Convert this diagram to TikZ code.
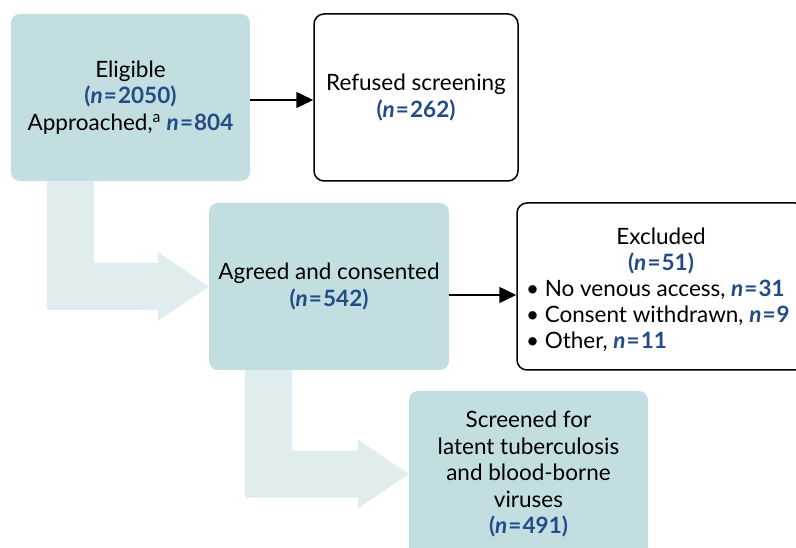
\documentclass[tikz,border=0pt]{standalone}
\usepackage{fontspec}
\setmainfont{Lato}
\usetikzlibrary{arrows.meta,calc}

\definecolor{boxteal}{HTML}{C3DEE1}
\definecolor{bendteal}{HTML}{DFEDEE}
\definecolor{nblue}{HTML}{234B85}

\pgfdeclarelayer{background}
\pgfsetlayers{background,main}

% count in blue, bold, italic n
\newcommand{\ncount}[1]{{\color{nblue}\bfseries\textit{n}\hspace{0.05em}=\hspace{0.05em}#1}}
\newcommand{\pcount}[1]{{\color{nblue}\bfseries(\textit{n}\hspace{0.05em}=\hspace{0.05em}#1)}}

% broad L-shaped arrow from the foot of one box into the side of the next
\newcommand{\flowbend}[2]{%
  \fill[bendteal] let \p1=(#1.south west), \p2=(#2.west) in
    (\x1+36pt,\y1) -- (\x1+36pt,\y2-23.5pt) -- (\x2-51pt,\y2-23.5pt)
    -- (\x2-51pt,\y2-34.5pt) -- (\x2,\y2) -- (\x2-51pt,\y2+34.5pt)
    -- (\x2-51pt,\y2+23.5pt) -- (\x1+83pt,\y2+23.5pt) -- (\x1+83pt,\y1) -- cycle;}

\tikzset{
  every node/.style={font=\fontsize{22.5}{26.5}\selectfont, inner sep=0pt},
  tealbox/.style={fill=boxteal, rounded corners=9pt, align=center},
  whitebox/.style={draw=black, line width=1.5pt, fill=white, rounded corners=10pt},
  flowarrow/.style={line width=1.5pt, -{Triangle[length=17pt,width=16pt]}},
}

\begin{document}
\begin{tikzpicture}[x=1pt,y=-1pt]
  \useasboundingbox (0,0) rectangle (796,548);

  \node[tealbox, minimum width=239pt, minimum height=167pt] (elig) at (130.5,97.5)
    {Eligible\\ \pcount{2050}\\ Approached,\textsuperscript{a} \ncount{804}};
  \node[whitebox, align=center, minimum width=204pt, minimum height=167pt] (refused) at (416,97.5)
    {Refused screening\\ \pcount{262}};
  \node[tealbox, minimum width=240pt, minimum height=167pt] (agreed) at (329,286.5)
    {Agreed and consented\\ \pcount{542}};
  \node[whitebox, minimum width=288pt, minimum height=167pt] (excl) at (661,286.5)
    {\parbox{270pt}{\fontsize{22.5}{26}\selectfont
       \vspace*{6pt}
       \centering Excluded\\ \pcount{51}\par
       \raggedright \textbullet\ No venous access, \ncount{31}\\
       \textbullet\ Consent withdrawn, \ncount{9}\\
       \textbullet\ Other, \ncount{11}\par}};
  \node[tealbox, minimum width=239pt, minimum height=166pt] (screened) at (528.5,474)
    {Screened for\\ latent tuberculosis\\ and blood-borne\\ viruses\\ \pcount{491}};

  % block arrows sit beneath the boxes
  \begin{pgfonlayer}{background}
    \flowbend{elig}{agreed}
    \flowbend{agreed}{screened}
  \end{pgfonlayer}

  \draw[flowarrow] ([yshift=-2.5pt]elig.east) -- ([yshift=-2.5pt]refused.west);
  \draw[flowarrow] ([yshift=-8.5pt]agreed.east) -- ([yshift=-8.5pt]excl.west);
\end{tikzpicture}
\end{document}
